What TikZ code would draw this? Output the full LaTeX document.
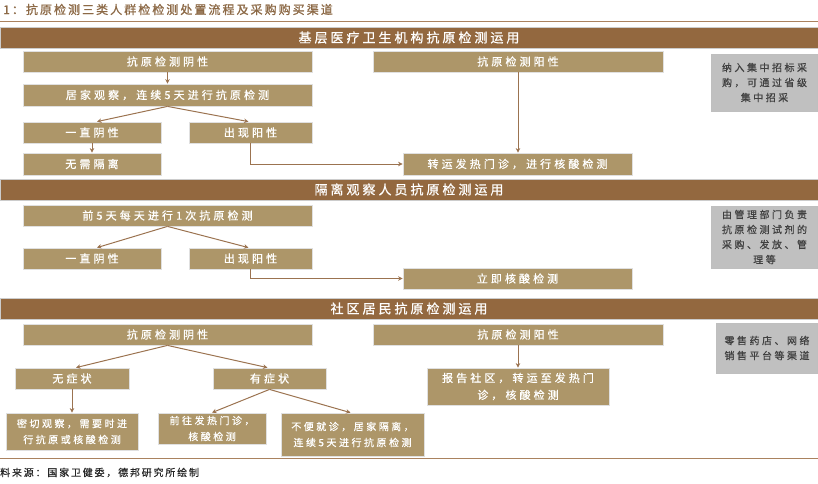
\documentclass[tikz,border=0pt]{standalone}
\usepackage{fontspec}
\setmainfont{Noto Sans CJK SC}
\newfontfamily\boxfont[LetterSpace=28,FakeBold=0.8]{Noto Sans CJK SC}
\newfontfamily\headfont[LetterSpace=23,FakeBold=0.8]{Noto Sans CJK SC}
\newfontfamily\smallfont[LetterSpace=25,FakeBold=0.6]{Noto Sans CJK SC}
\newfontfamily\titlefont[LetterSpace=17,FakeBold=1.2]{Noto Sans CJK SC}
\newfontfamily\srcfont[LetterSpace=18,FakeBold=0.4]{Noto Sans CJK SC}
\usetikzlibrary{arrows.meta}
\definecolor{hdr}{RGB}{147,104,63}
\definecolor{tan}{RGB}{173,150,105}
\definecolor{gbox}{RGB}{192,192,192}
\definecolor{arr}{RGB}{155,115,80}
\definecolor{ttl}{RGB}{140,105,70}
\definecolor{sep}{RGB}{170,130,95}
\tikzset{
  tanbox/.style={fill=tan, draw=black!12, line width=0.8pt, inner sep=0pt, text=white, align=center, font=\boxfont\fontsize{11}{17}\selectfont},
  smallbox/.style={tanbox, font=\smallfont\fontsize{10}{16}\selectfont},
  graybox/.style={fill=gbox, draw=black!25, line width=0.8pt, inner sep=0pt, text=black!75, align=center, font=\smallfont\fontsize{10}{15}\selectfont},
  hdrbar/.style={fill=hdr, draw=black!20, line width=0.6pt, inner sep=0pt, text=white, font=\headfont\fontsize{13}{15}\selectfont, minimum width=818pt, minimum height=21pt},
  flow/.style={draw=arr, line width=1pt, -{Stealth[length=4.5pt,width=4.5pt]}},
  sepline/.style={draw=sep, line width=1pt}
}
\begin{document}
\begin{tikzpicture}[x=1pt,y=-1pt]
\useasboundingbox (0,0) rectangle (818,483);
% title
\node[anchor=west, text=ttl, inner sep=0pt, font=\titlefont\fontsize{12}{14}\selectfont] (title) at (3,9.5) {1：抗原检测三类人群检检测处置流程及采购购买渠道};
\coordinate (tl) at (0,21);
\coordinate (tr) at (818,21);
\draw[sepline] (tl) -- (tr);
% section 1
\node[hdrbar] (h1) at (409,37.5) {基层医疗卫生机构抗原检测运用};
\node[tanbox, minimum width=289pt, minimum height=21pt] (neg1) at (167.5,61.5) {抗原检测阴性};
\node[tanbox, minimum width=290pt, minimum height=21pt] (pos1) at (518,61.5) {抗原检测阳性};
\node[graybox, minimum width=106pt, minimum height=57pt] (g1) at (764.5,82.5) {纳入集中招标采\\购，可通过省级\\集中招采};
\node[tanbox, minimum width=289pt, minimum height=22pt] (home1) at (167.5,95) {居家观察，连续5天进行抗原检测};
\node[tanbox, minimum width=138pt, minimum height=21pt] (alwneg1) at (92,132.5) {一直阴性};
\node[tanbox, minimum width=123pt, minimum height=21pt] (appos1) at (250.5,132.5) {出现阳性};
\node[tanbox, minimum width=138pt, minimum height=22pt] (noiso) at (92,164) {无需隔离};
\node[tanbox, minimum width=229pt, minimum height=22pt] (trans1) at (517.5,164) {转运发热门诊，进行核酸检测};
\draw[flow] (neg1) -- (home1);
\draw[flow] (home1.south) -- ([xshift=5pt]alwneg1.north);
\draw[flow] (home1.south) -- ([xshift=-2pt]appos1.north);
\draw[flow] (alwneg1) -- (noiso);
\draw[flow] (appos1.south) |- (trans1.west);
\draw[flow] (pos1.south) -- (pos1.south |- trans1.north);
% section 2
\node[hdrbar] (h2) at (409,189.5) {隔离观察人员抗原检测运用};
\node[tanbox, minimum width=289pt, minimum height=21pt] (first5) at (167.5,215.5) {前5天每天进行1次抗原检测};
\node[tanbox, minimum width=138pt, minimum height=21pt] (alwneg2) at (92,258.5) {一直阴性};
\node[tanbox, minimum width=123pt, minimum height=21pt] (appos2) at (250.5,258.5) {出现阳性};
\node[tanbox, minimum width=229pt, minimum height=21pt] (nat2) at (517.5,278.5) {立即核酸检测};
\node[graybox, minimum width=106pt, minimum height=62pt] (g2) at (764.5,237) {由管理部门负责\\抗原检测试剂的\\采购、发放、管\\理等};
\draw[flow] (first5.south) -- ([xshift=5pt]alwneg2.north);
\draw[flow] (first5.south) -- ([xshift=-2pt]appos2.north);
\draw[flow] (appos2.south) |- (nat2.west);
% section 3
\node[hdrbar] (h3) at (409,308.5) {社区居民抗原检测运用};
\node[tanbox, minimum width=289pt, minimum height=21pt] (neg3) at (167.5,334.5) {抗原检测阴性};
\node[tanbox, minimum width=290pt, minimum height=21pt] (pos3) at (518,334.5) {抗原检测阳性};
\node[graybox, minimum width=101pt, minimum height=50pt] (g3) at (767,348) {零售药店、网络\\销售平台等渠道};
\node[tanbox, minimum width=114pt, minimum height=21pt] (nosym) at (72,378.5) {无症状};
\node[tanbox, minimum width=113pt, minimum height=21pt] (sym) at (269.5,378.5) {有症状};
\node[smallbox, minimum width=132pt, minimum height=37pt] (close) at (72,431.5) {密切观察，需要时进\\行抗原或核酸检测};
\node[smallbox, minimum width=108pt, minimum height=31pt] (fever) at (212,428.5) {前往发热门诊，\\核酸检测};
\node[smallbox, minimum width=143pt, minimum height=43pt] (home3) at (352.5,434.5) {不便就诊，居家隔离，\\连续5天进行抗原检测};
\node[tanbox, minimum width=182pt, minimum height=37pt] (report) at (518,386.5) {报告社区，转运至发热门\\诊，核酸检测};
\draw[flow] (neg3.south) -- ([xshift=4pt]nosym.north);
\draw[flow] (neg3.south) -- ([xshift=-2pt]sym.north);
\draw[flow] (nosym) -- (close);
\draw[flow] (sym.south) -- (fever.north);
\draw[flow] (sym.south) -- ([xshift=-2pt]home3.north);
\draw[flow] (pos3.south) -- (pos3.south |- report.north);
% bottom
\coordinate (bl) at (0,458);
\coordinate (br) at (818,458);
\draw[sepline] (bl) -- (br);
\node[anchor=west, inner sep=0pt, text=black!85, font=\srcfont\fontsize{10}{12}\selectfont] (src) at (0,472.5) {料来源：国家卫健委，德邦研究所绘制};
\end{tikzpicture}
\end{document}
